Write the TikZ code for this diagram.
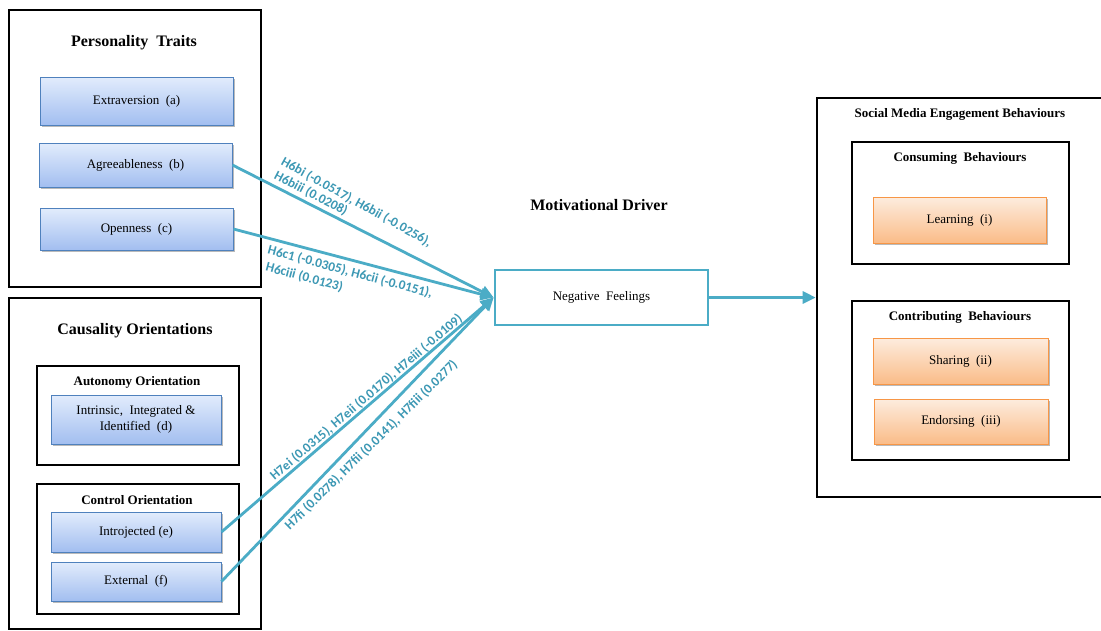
\documentclass[tikz,border=0pt]{standalone}
\usepackage{fontspec}
\setmainfont{Liberation Serif}
\newfontfamily\lblfont{Carlito}
\usetikzlibrary{arrows.meta,shadows}

\definecolor{linkteal}{RGB}{75,172,198}
\definecolor{hyptext}{RGB}{60,152,180}
\definecolor{blueedge}{RGB}{79,129,189}
\definecolor{bluetop}{RGB}{226,236,252}
\definecolor{bluebot}{RGB}{162,190,240}
\definecolor{orangeedge}{RGB}{247,150,70}
\definecolor{orangetop}{RGB}{253,236,222}
\definecolor{orangebot}{RGB}{250,188,136}

\begin{document}
\begin{tikzpicture}[x=1pt,y=-1pt,
  frame/.style={draw=black,line width=2.6pt,inner sep=0pt},
  itembox/.style={line width=0.9pt,inner sep=2pt,align=center,
    font=\fontsize{13}{15}\selectfont,
    drop shadow={opacity=0.45,shadow xshift=1.5pt,shadow yshift=-2.2pt,fill=black!60}},
  blueitem/.style={itembox,draw=blueedge,top color=bluetop,bottom color=bluebot},
  orangeitem/.style={itembox,draw=orangeedge,top color=orangetop,bottom color=orangebot},
  heading/.style={font=\bfseries\fontsize{16}{19}\selectfont,inner sep=0pt},
  subheading/.style={font=\bfseries\fontsize{13}{15}\selectfont,inner sep=0pt},
  link/.style={draw=linkteal,line width=2.8pt,-{Triangle[length=13pt,width=12pt]}},
  hyp/.style={text=hyptext,font=\lblfont\bfseries\fontsize{13.3}{15}\selectfont,inner sep=0pt,anchor=west}]

\clip (0,0) rectangle (1101,630);
\fill[white] (0,0) rectangle (1101,630);

% ---- Personality traits ----
\node[frame,minimum width=252pt,minimum height=277pt] (pt) at (135,148.5) {};
\node[heading] (ptt) at (134,43) {Personality\ \ Traits};
\node[blueitem,minimum width=193pt,minimum height=48pt] (a) at (136.5,101) {Extraversion\ \ (a)};
\node[blueitem,minimum width=193pt,minimum height=44pt] (b) at (135.5,165) {Agreeableness\ \ (b)};
\node[blueitem,minimum width=193pt,minimum height=42pt] (c) at (136.5,229) {Openness\ \ (c)};

% ---- Causality orientations ----
\node[frame,minimum width=252pt,minimum height=331pt] (co) at (135,463.5) {};
\node[heading] (cot) at (135,331) {Causality Orientations};
\node[frame,minimum width=202pt,minimum height=99pt] (auto) at (138,415.5) {};
\node[subheading] (autot) at (137,382) {Autonomy\ Orientation};
\node[blueitem,minimum width=170pt,minimum height=49pt,font=\fontsize{13}{16}\selectfont] (d) at (136,419.5) {Intrinsic,\ \ Integrated \&\\Identified\ \ (d)};
\node[frame,minimum width=202pt,minimum height=130pt] (ctrl) at (138,549) {};
\node[subheading] (ctrlt) at (137,500) {Control\ Orientation};
\node[blueitem,minimum width=170pt,minimum height=40pt] (e) at (136,532) {Introjected (e)};
\node[blueitem,minimum width=170pt,minimum height=39pt] (f) at (136,581.5) {External\ \ (f)};

% ---- Motivational driver ----
\node[heading] (mdt) at (599,205) {Motivational Driver};
\node[draw=linkteal,line width=2.8pt,fill=white,minimum width=213pt,minimum height=55pt,
      font=\fontsize{13}{15}\selectfont] (neg) at (601.5,297.5) {Negative\ \ Feelings};

% ---- Social media engagement behaviours ----
\node[frame,minimum width=293pt,minimum height=399pt] (sm) at (963.5,297.5) {};
\node[subheading] (smt) at (960,114) {Social Media Engagement Behaviours};
\node[frame,minimum width=217pt,minimum height=122pt] (cons) at (960.5,203) {};
\node[subheading] (const) at (960,158) {Consuming\ \ Behaviours};
\node[orangeitem,minimum width=173pt,minimum height=46pt] (i) at (959.5,220) {Learning\ \ (i)};
\node[frame,minimum width=217pt,minimum height=159pt] (contr) at (960.5,380.5) {};
\node[subheading] (contrt) at (960,317) {Contributing\ \ Behaviours};
\node[orangeitem,minimum width=175pt,minimum height=46pt] (ii) at (960.5,361) {Sharing\ \ (ii)};
\node[orangeitem,minimum width=174pt,minimum height=45pt] (iii) at (961,421.5) {Endorsing\ \ (iii)};

% ---- Connectors ----
\draw[link] (b.east) -- (neg.west);
\draw[link] (c.east) -- (neg.west);
\draw[link] (e.east) -- (neg.west);
\draw[link] (f.east) -- (neg.west);
\draw[link] (neg.east) -- (sm.west |- neg.east);

% ---- Path coefficients ----
\node[hyp,rotate=-29] (h6b1) at (282,161) {H6bi (-0.0517), H6bii (-0.0256),};
\node[hyp,rotate=-27.5] (h6b2) at (275,175) {H6biii (0.0208)};
\node[hyp,rotate=-15] (h6c1) at (268,250) {H6c1 (-0.0305), H6cii (-0.0151),};
\node[hyp,rotate=-15] (h6c2) at (266,267) {H6ciii (0.0123)};
\node[hyp,rotate=40.5] (h7e) at (272,478) {H7ei (0.0315), H7eii (0.0170), H7eiii (-0.0109)};
\node[hyp,rotate=44.5] (h7f) at (287,528) {H7fi (0.0278), H7fii (0.0141), H7fiii (0.0277)};
\end{tikzpicture}
\end{document}
